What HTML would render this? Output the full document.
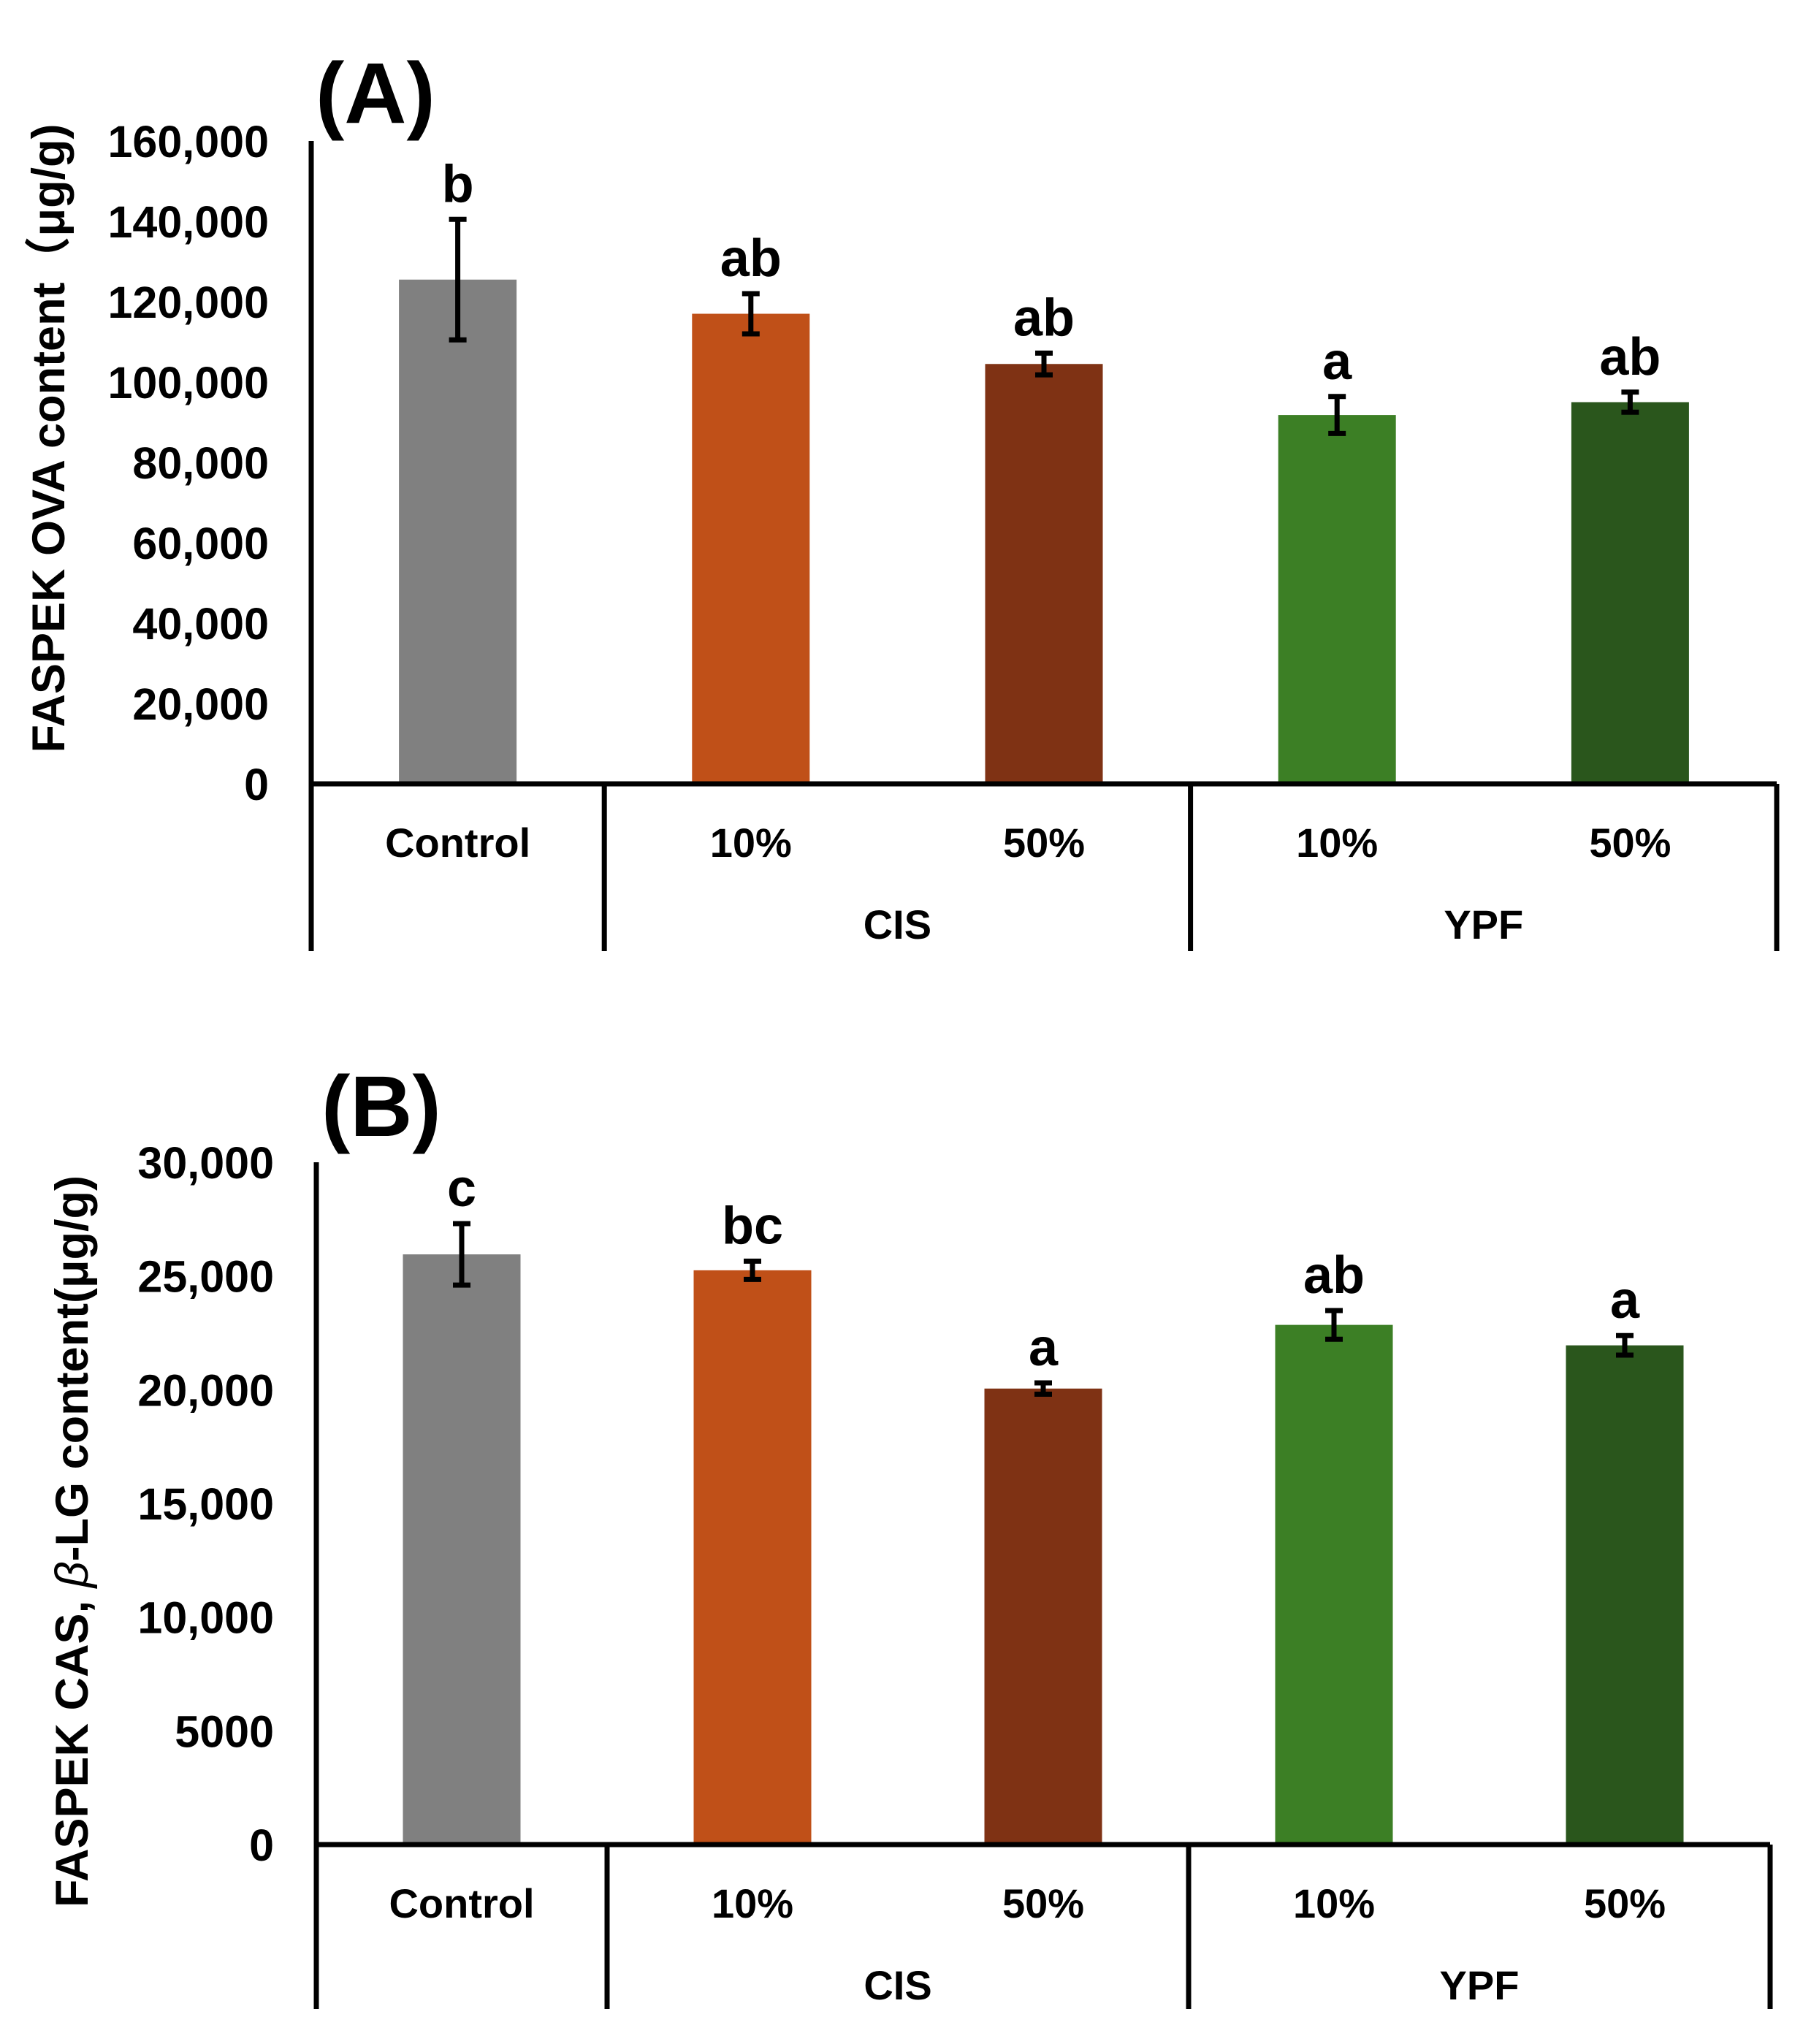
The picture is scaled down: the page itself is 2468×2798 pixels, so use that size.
<!DOCTYPE html>
<html><head><meta charset="utf-8"><style>
html,body{margin:0;padding:0;background:#fff;}
svg{display:block;}
text{font-family:"Liberation Sans","Noto Sans CJK JP",sans-serif;font-weight:bold;fill:#000;}
</style></head>
<body>
<svg id="chart" width="2468" height="2798" viewBox="0 0 2468 2798" xmlns="http://www.w3.org/2000/svg"></svg>
<script>
const categories = ["Control","10%","50%","10%","50%"];
const groups = ["CIS","YPF"];
const colors = ["#808080","#C05018","#7F3214","#3C7F25","#2A561C"];
const valuesA = [125500,117000,104500,91800,95000];
const errorsA = [15000,5000,2700,4600,2500];
const lettersA = ["b","ab","ab","a","ab"];
const ticksA = [0,20000,40000,60000,80000,100000,120000,140000,160000];
const tickLabelsA = ["0","20,000","40,000","60,000","80,000","100,000","120,000","140,000","160,000"];
const valuesB = [25950,25250,20050,22850,21950];
const errorsB = [1350,400,250,630,430];
const lettersB = ["c","bc","a","ab","a"];
const ticksB = [0,5000,10000,15000,20000,25000,30000];
const tickLabelsB = ["0","5000","10,000","15,000","20,000","25,000","30,000"];

const svg = document.getElementById('chart');
const NS = "http://www.w3.org/2000/svg";
function mk(tag, attrs, parent){
  const e = document.createElementNS(NS, tag);
  for (const k in attrs) e.setAttribute(k, attrs[k]);
  (parent||svg).appendChild(e);
  return e;
}

function panel(cfg){
  const g = mk('g', {});
  
  
  const y = v => cfg.base - v / cfg.max * (cfg.base - cfg.top);
  const step = (cfg.right - cfg.left) / categories.length;
  const cx = i => cfg.left + step * (i + 0.5);
  const pl = mk('text', {x: cfg.labelX, y: cfg.labelY, 'font-size': 118}, g);
  pl.textContent = cfg.label;
  
  
  const yt = mk('text', {x: 0, y: 0, 'font-size': cfg.titleSize, 'text-anchor': 'middle', transform: `translate(${cfg.titleX},${cfg.titleY}) rotate(-90)`}, g);
  yt.innerHTML = cfg.title;
  
  
  cfg.ticks.forEach((t, i) => {
    const tl = mk('text', {x: cfg.left - 58, y: y(t) + 22, 'font-size': 61, 'text-anchor': 'end'}, g);
    tl.textContent = cfg.tickLabels[i];
    
    
  });
  cfg.values.forEach((v, i) => {
    const bw = 161;
    const r = mk('rect', {x: cx(i) - bw / 2, y: y(v), width: bw, height: cfg.base - y(v), fill: colors[i]}, g);
    
    
    const e = cfg.errors[i];
    const eb = mk('path', {d: `M${cx(i)} ${y(v + e)}V${y(v - e)}M${cx(i) - 12} ${y(v + e)}H${cx(i) + 12}M${cx(i) - 12} ${y(v - e)}H${cx(i) + 12}`, stroke: '#000', 'stroke-width': 7, fill: 'none'}, g);
    
    
    const lt = mk('text', {x: cx(i), y: y(v + e) - 24, 'font-size': 72, 'text-anchor': 'middle'}, g);
    lt.textContent = cfg.letters[i];
    
    
    const cl = mk('text', {x: cx(i), y: cfg.base + 100, 'font-size': 56, 'text-anchor': 'middle'}, g);
    cl.textContent = categories[i];
    
    
  });
  groups.forEach((gn, j) => {
    const gl = mk('text', {x: cfg.left + step * (1 + 2 * j + 1), y: cfg.base + 212, 'font-size': 56, 'text-anchor': 'middle'}, g);
    gl.textContent = gn;
    
    
  });
  const ax = mk('path', {d: `M${cfg.left} ${cfg.top}V${cfg.bottom}M${cfg.left} ${cfg.base}H${cfg.right}` +
    [1, 3, 5].map(k => `M${cfg.left + step * k} ${cfg.base}V${cfg.bottom}`).join(''),
    stroke: '#000', 'stroke-width': 7, fill: 'none'}, g);
  
  
}

panel({name:'panel-a', label:'(A)', labelX:432, labelY:168, title:'FASPEK OVA content（μg/g)', titleSize:63,
  titleX:88, titleY:600, left:426, right:2432, top:193, base:1073, bottom:1302, max:160000,
  values:valuesA, errors:errorsA, letters:lettersA, ticks:ticksA, tickLabels:tickLabelsA});
panel({name:'panel-b', label:'(B)', labelX:440, labelY:1555, title:'FASPEK CAS, <tspan font-style="italic" font-weight="normal">β</tspan>-LG content(μg/g)', titleSize:63,
  titleX:120, titleY:2110, left:433, right:2423, top:1591, base:2525, bottom:2750, max:30000,
  values:valuesB, errors:errorsB, letters:lettersB, ticks:ticksB, tickLabels:tickLabelsB});
</script>
</body></html>
